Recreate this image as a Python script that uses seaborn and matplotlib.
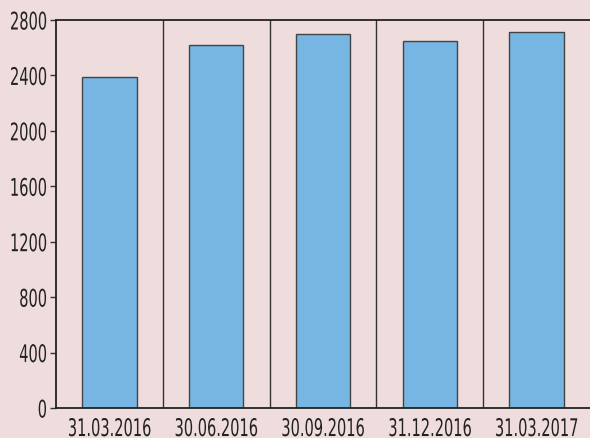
import matplotlib
matplotlib.use("Agg")
import matplotlib.pyplot as plt
import seaborn as sns
import pandas as pd
from matplotlib.patheffects import AbstractPathEffect
from matplotlib.transforms import Affine2D, Bbox

dates = ["31.03.2016", "30.06.2016", "30.09.2016", "31.12.2016", "31.03.2017"]
values = [2390, 2620, 2700, 2650, 2710]
yticks = [0, 400, 800, 1200, 1600, 2000, 2400, 2800]

bg = "#EFDCDD"
bar_color = "#77B5E3"
SX = 0.6


class Squeeze(AbstractPathEffect):
    """Horizontally condense text glyphs (emulates a narrow font)."""
    def __init__(self, sx=0.6, anchor="center"):
        super().__init__()
        self.sx = sx
        self.anchor = anchor

    def draw_path(self, renderer, gc, tpath, affine, rgbFace=None):
        ext = tpath.get_extents()
        x0 = ext.x1 if self.anchor == "right" else (ext.x0 + ext.x1) / 2
        t = Affine2D().translate(-x0, 0).scale(self.sx, 1).translate(x0, 0)
        renderer.draw_path(gc, tpath, t + affine, rgbFace)


def squeeze_text(txt, sx, anchor):
    txt.set_path_effects([Squeeze(sx, anchor)])
    orig = txt.get_window_extent

    def extent(renderer=None, dpi=None, _orig=orig):
        bb = _orig(renderer=renderer, dpi=dpi)
        w = bb.width * sx
        if anchor == "right":
            x1 = bb.x1
            x0 = x1 - w
        else:
            c = (bb.x0 + bb.x1) / 2
            x0, x1 = c - w / 2, c + w / 2
        return Bbox([[x0, bb.y0], [x1, bb.y1]])

    txt.get_window_extent = extent


sns.set_theme(style="white")
plt.rcParams["font.family"] = ["DejaVu Sans"]

fig = plt.figure(figsize=(5.9, 4.39), dpi=100, facecolor=bg)
ax = fig.add_axes([56/590, 1 - 409/439, 1 - 56/590, (409 - 21)/439])
ax.set_facecolor(bg)

df = pd.DataFrame({"date": dates, "value": values})
sns.barplot(data=df, x="date", y="value", color=bar_color, width=0.51,
            edgecolor="#444444", linewidth=1.0, saturation=1, ax=ax)

for i in range(len(dates) - 1):
    ax.axvline(i + 0.5, color="#333333", linewidth=1.0, zorder=0)

ax.set_xlim(-0.5, len(dates) - 0.5)
ax.set_ylim(0, 2800)
ax.set_yticks(yticks)
ax.set_yticklabels([str(t) for t in yticks], fontsize=17.5, color="#222222")
ax.set_xticks(range(len(dates)))
ax.set_xticklabels(dates, fontsize=17.5, color="#222222")
ax.tick_params(axis="y", length=4.5, width=1, color="#333333", pad=1.5, left=True)
ax.tick_params(axis="x", length=0, pad=6.5)
for lab in ax.get_yticklabels():
    squeeze_text(lab, SX, "right")
for lab in ax.get_xticklabels():
    squeeze_text(lab, SX, "center")
ax.set_xlabel("")
ax.set_ylabel("")
for s in ["left", "top", "bottom"]:
    ax.spines[s].set_visible(True)
    ax.spines[s].set_color("#222222")
    ax.spines[s].set_linewidth(1.3)
ax.spines["right"].set_visible(False)

fig.savefig("out.png", dpi=100, facecolor=bg)
